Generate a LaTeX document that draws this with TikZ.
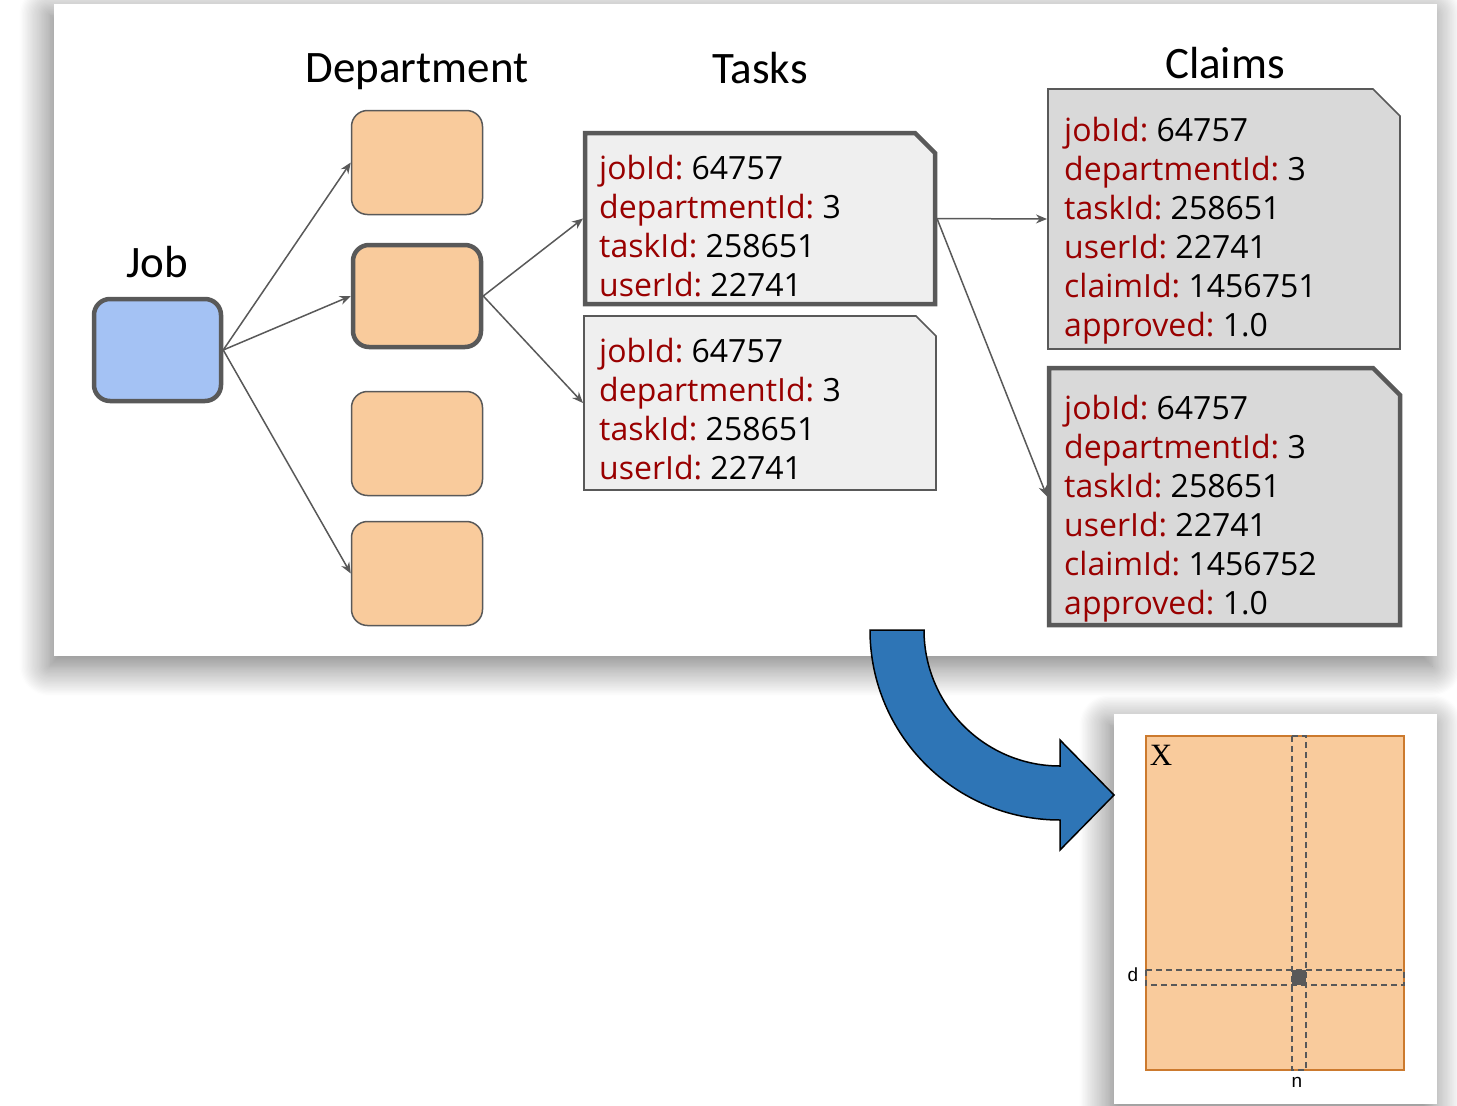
\documentclass[tikz,border=0pt]{standalone}
\usepackage{fontspec}
\newfontfamily\headfont{Carlito}
\newfontfamily\recfont{Open Sans}
\newfontfamily\labfont{Liberation Sans}
\newfontfamily\matfont{Liberation Serif}
\usetikzlibrary{positioning,arrows.meta,shadows.blur}
\definecolor{jobblue}{HTML}{A4C2F4}
\definecolor{deptorange}{HTML}{F9CB9C}
\definecolor{edgegray}{HTML}{595959}
\definecolor{taskgray}{HTML}{EFEFEF}
\definecolor{claimgray}{HTML}{D9D9D9}
\definecolor{keyred}{HTML}{990000}
\definecolor{bigblue}{HTML}{2E75B6}
\definecolor{matborder}{RGB}{204,122,46}

\newcommand{\kv}[2]{{\color{keyred}#1:} #2}

\tikzset{
  panel/.style={fill=white, draw=none, anchor=north west, inner sep=0pt,
    blur shadow={shadow xshift=-5pt, shadow yshift=-10pt, shadow blur radius=30pt, shadow blur steps=24, shadow opacity=55}},
  head/.style={font=\headfont\fontsize{45}{45}\selectfont},
  jobbox/.style={rounded corners=16pt, fill=jobblue, draw=edgegray, line width=4.5pt, minimum width=127, minimum height=102},
  dept/.style={rounded corners=16pt, fill=deptorange, draw=edgegray, line width=1.5pt, minimum width=131, minimum height=104},
  deptsel/.style={dept, line width=4.5pt, minimum width=128, minimum height=102},
  record/.style={rectangle, inner sep=0pt, outer sep=0pt},
  taskline/.style={fill=taskgray, draw=edgegray, line width=1.6pt, line join=miter},
  claimline/.style={fill=claimgray, draw=edgegray, line width=1.6pt, line join=miter},
  bold/.style={line width=4.5pt},
  fields/.style={anchor=north west, align=left, inner sep=0pt, font=\recfont\fontsize{32}{39}\selectfont\frenchspacing},
  link/.style={draw=edgegray, line width=1.5pt, -{Stealth[length=11pt, width=9pt]}},
  band/.style={draw=edgegray, line width=1.5pt, dash pattern=on 6pt off 4pt}
}

\begin{document}
\begin{tikzpicture}[x=1pt, y=-1pt]
\useasboundingbox (0,0) rectangle (1457,1106);

% panels
\node[panel, minimum width=1383, minimum height=652] (top) at (54,4) {};
\node[panel, minimum width=323, minimum height=390] (bottom) at (1114,714) {};

% headers
\node[head] (jobhead) at (157,262) {Job};
\node[head] (depthead) at (417,72) {Department};
\node[head] (taskhead) at (760,68) {Tasks};
\node[head] (claimhead) at (1225,63) {Claims};

% job and departments
\node[jobbox] (job) at (157.5,350) {};
\node[dept] (d1) at (417,162.5) {};
\node[deptsel] (d2) at (417,296) {};
\node[dept] (d3) at (417,443.5) {};
\node[dept] (d4) at (417,573.5) {};

% tasks
\node[record, minimum width=350, minimum height=171] (t1) at (760,218.5) {};
\draw[taskline, bold] (t1.south west) |- ([xshift=-20pt]t1.north east) -- ([yshift=-20pt]t1.north east) |- cycle;
\node[fields] (t1text) at (599,154.7)
  {\kv{jobId}{64757}\\ \kv{departmentId}{3}\\ \kv{taskId}{258651}\\ \kv{userId}{22741}};

\node[record, minimum width=352, minimum height=174] (t2) at (760,403) {};
\draw[taskline] (t2.south west) |- ([xshift=-20pt]t2.north east) -- ([yshift=-20pt]t2.north east) |- cycle;
\node[fields] (t2text) at (599,337.7)
  {\kv{jobId}{64757}\\ \kv{departmentId}{3}\\ \kv{taskId}{258651}\\ \kv{userId}{22741}};

% claims
\node[record, minimum width=352, minimum height=260] (c1) at (1224,219) {};
\draw[claimline] (c1.south west) |- ([xshift=-27pt]c1.north east) -- ([yshift=-27pt]c1.north east) |- cycle;
\node[fields] (c1text) at (1064,116.7)
  {\kv{jobId}{64757}\\ \kv{departmentId}{3}\\ \kv{taskId}{258651}\\ \kv{userId}{22741}\\ \kv{claimId}{1456751}\\ \kv{approved}{1.0}};

\node[record, minimum width=351, minimum height=257] (c2) at (1224.5,496.5) {};
\draw[claimline, bold] (c2.south west) |- ([xshift=-27pt]c2.north east) -- ([yshift=-27pt]c2.north east) |- cycle;
\node[fields] (c2text) at (1064,394.5)
  {\kv{jobId}{64757}\\ \kv{departmentId}{3}\\ \kv{taskId}{258651}\\ \kv{userId}{22741}\\ \kv{claimId}{1456752}\\ \kv{approved}{1.0}};

% connectors
\draw[link] (job.east) -- (d1.west);
\draw[link] (job.east) -- (d2.west);
\draw[link] (job.east) -- (d4.west);
\draw[link] (d2.east) -- ([xshift=-2pt]t1.west);
\draw[link] (d2.east) -- ([xshift=-1pt]t2.west);
\draw[link] ([xshift=2pt]t1.east) -- ([xshift=-1pt]c1.west);
\draw[link] ([xshift=2pt]t1.east) -- ([xshift=-2pt]c2.west);

% curved arrow
\draw[fill=bigblue, draw=black, line width=1.5pt, line join=miter]
  (870,630) -- (924,630) .. controls (924,705) and (985,766) .. (1060,766)
  -- (1060,740) -- (1114,795) -- (1060,850) -- (1060,820)
  .. controls (955,820) and (870,735) .. (870,630) -- cycle;

% matrix X
\draw[fill=deptorange, draw=matborder, line width=1.5pt] (1146,736) rectangle (1404,1070);
\draw[band] (1292,736) rectangle (1306,1070);
\draw[band] (1146,970) rectangle (1404,985);
\fill[edgegray] (1292,970) rectangle (1306,985);
\node[font=\matfont\fontsize{31}{31}\selectfont] (xlab) at (1161,755) {X};
\node[font=\labfont\fontsize{19}{19}\selectfont] (dlab) at (1133,975) {d};
\node[font=\labfont\fontsize{19}{19}\selectfont] (nlab) at (1297,1082) {n};

\end{tikzpicture}
\end{document}
